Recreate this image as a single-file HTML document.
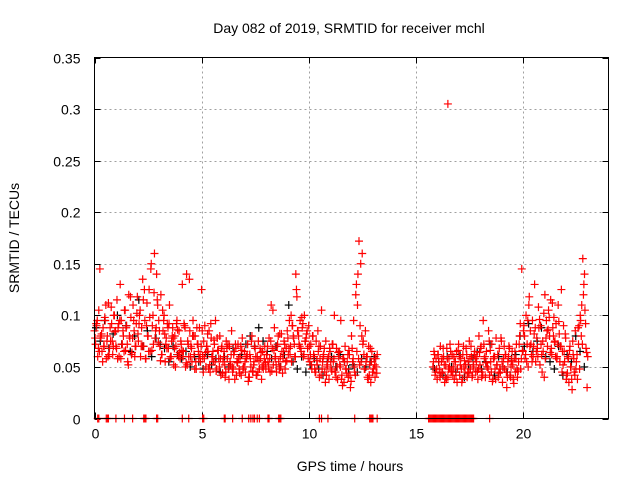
<!DOCTYPE html>
<html><head><meta charset="utf-8"><style>
html,body{margin:0;padding:0;background:#fff;}
svg text{font-family:"Liberation Sans",sans-serif;font-size:14px;fill:#000;}
</style></head><body>
<svg id="chart" width="640" height="480" xmlns="http://www.w3.org/2000/svg">
<text x="349" y="33" text-anchor="middle">Day 082 of 2019, SRMTID for receiver mchl</text>
<text transform="translate(19,238) rotate(-90)" text-anchor="middle">SRMTID / TECUs</text>
<text x="350" y="471" text-anchor="middle">GPS time / hours</text>
<g id="grid"></g>
<g id="ticks"></g>
<g id="black"></g>
<g id="red"></g>
<rect x="94.5" y="57.5" width="514" height="361" fill="none" stroke="#000" stroke-width="1"/>
</svg>
<script>
const xTicks=[0,5,10,15,20];
const yTicks=[0,0.05,0.1,0.15,0.2,0.25,0.3,0.35];
const yTickLabels=["0","0.05","0.1","0.15","0.2","0.25","0.3","0.35"];
const seg1Start=0.0, seg1Step=0.05;
const seg1RedA=[85,72,90,60,105,145,78,65,88,70,95,58,80,112,68,75,92,62,100,84,
70,115,88,60,130,95,72,80,105,66,90,55,120,78,98,64,110,85,70,92,
118,75,100,60,88,135,70,95,58,112,80,125,65,150,90,72,160,85,140,110,
95,70,120,62,85,100,55,78,92,68,110,60,75,88,52,80,70,95,62,85,
58,72,130,65,90,50,140,75,60,85,70,55,95,62,80,48,72,65,88,55,
125,60,75,90,50,70,65,85,45,78,60,55,72,95,48,66,58,80,42,70,
55,65,40,75,58,48,70,52,85,45,62,38,68,55,72,48,60,42,78,50,
65,45,58,72,40,62,50,80,45,55,68,42,60,75,48,58,38,65,52,70,
48,62,55,78,45,110,68,52,88,60,45,72,55,82,50,65,58,75,48,68,
85,62,95,70,55,90,78,60,140,118,85,72,95,65,88,60,100,75,82,68,
90,55,72,48,80,60,45,75,52,65,40,70,105,55,62,45,75,50,58,38,
65,48,72,55,100,45,68,38,60,52,95,42,58,35,70,48,55,40,62,30,
80,55,95,45,120,65,140,172,90,55,160,75,48,85,60,40,70,52,35,65,45,58,40,50,62];
const seg1BStart=0.03, seg1BStep=0.1;
const seg1RedB=[78,95,65,82,70,110,60,88,75,100,68,92,58,85,105,72,80,62,95,70,
82,105,70,125,90,65,145,100,78,115,85,62,95,72,88,58,80,68,92,60,
75,60,88,52,135,68,80,55,72,62,85,58,70,48,92,65,55,78,50,68,
60,45,72,55,50,65,42,58,70,48,55,62,40,75,52,60,45,68,50,58,
62,50,75,105,58,70,48,82,65,55,78,62,90,72,125,80,68,92,75,85,
70,52,62,45,85,58,48,68,42,60,55,72,45,50,65,38,58,48,62,42,
68,50,130,58,150,72,48,60,42,55,48,58];
const seg1CStart=0.08, seg1CStep=0.1;
const seg1RedC=[92,68,80,55,98,75,62,108,70,85,58,95,72,65,88,52,118,78,60,102,
92,70,115,58,80,98,66,122,88,74,56,105,82,68,92,60,78,50,86,64,
66,92,54,72,60,80,48,88,58,70,45,64,82,52,60,76,46,66,58,44,
52,68,38,62,48,72,54,44,66,50,60,36,58,46,70,42,56,64,48,54,
70,58,46,66,52,80,60,44,72,56,68,100,80,60,85,70,98,62,78,58,
62,80,48,56,70,42,60,35,52,68,46,58,40,64,50,32,55,44,66,36,
58,42,110,52,80,62,55,38,68,45,52,44];
const seg1BlackStart=0.07, seg1BlackStep=0.2;
const seg1Black=[88,75,95,68,82,100,72,90,65,80,115,70,85,60,78,72,68,55,70,62,58,65,50,60,55,48,62,52,58,45,60,50,68,55,62,72,80,70,88,75,65,58,70,50,62,110,55,48,60,45,52,58,48,42,55,60,50,62,55,48,52,45,58,50,55,60];
const seg2Start=15.8, seg2Step=0.05;
const seg2RedA=[50,65,42,58,38,62,48,70,55,45,60,35,52,68,40,58,72,45,62,50,
38,55,65,48,72,42,58,35,62,50,45,68,40,55,75,48,60,42,52,65,
45,60,38,80,52,70,45,95,58,40,65,50,85,42,55,72,38,60,48,78,
52,40,68,45,75,35,58,48,62,30,55,70,42,50,65,38,58,45,72,40,
55,80,48,145,65,90,58,100,72,50,118,85,62,95,70,130,55,78,60,88,
52,72,45,65,40,58,95,70,105,80,115,62,88,98,75,92,60,110,82,70,
125,65,90,55,78,42,60,35,70,50,28,62,45,85,55,38,72,48,95,110,
155,130,105,68,30];
const seg2BStart=15.83, seg2BStep=0.1;
const seg2RedB=[55,45,62,40,58,52,38,48,65,42,55,35,60,48,70,52,45,58,40,62,55,48,68,42,60,50,75,45,58,38,62,48,55,70,45,60,40,52,65,48,72,58,85,62,95,70,55,82,65,108,90,75,120,85,98,68,80,60,72,55,45,65,38,58,50,75,42,62,90,80,120,92,60];
const seg2CStart=15.88, seg2CStep=0.1;
const seg2RedC=[62,48,55,44,68,40,58,50,46,60,42,66,52,38,56,62,44,70,50,58,46,64,40,72,54,48,66,36,60,52,44,78,50,62,40,68,56,34,58,46,92,66,80,55,110,72,60,88,68,96,62,102,78,86,64,112,74,58,94,70,52,82,44,66,38,58,48,88,100,72,140,64];
const seg2BlackStart=15.87, seg2BlackStep=0.2;
const seg2Black=[48,55,42,60,50,45,62,40,52,58,65,48,55,72,42,60,50,45,58,62,80,70,92,65,75,88,60,55,48,70,42,62,55,80,65,50];
const outlierTimes=[16.5];
const outlierValues=[0.305];
const zeroTimes=[0.15,0.2,0.55,0.6,0.65,1.0,1.4,1.78,2.3,2.35,2.4,2.9,2.95,4.1,4.4,5.05,5.1,6.06,6.1,6.45,6.9,7.2,7.3,7.4,7.47,7.6,7.7,8.1,8.15,8.6,8.65,8.7,10.5,10.6,10.9,12.15,12.85,12.9,12.95,13.0,13.2,
15.6,15.65,15.7,15.75,15.8,15.85,15.9,15.95,16.0,16.05,16.1,16.15,16.2,16.25,16.3,16.35,16.4,16.45,16.5,16.55,16.6,16.65,16.7,16.75,16.8,16.85,16.9,16.95,17.0,17.05,17.1,17.15,17.2,17.25,17.3,17.35,17.4,17.45,17.5,17.55,17.6,17.65,17.7,18.45];

const X0=94.5,X1=608.5,Y0=418.5,Y1=57.5;
function xs(h){return X0+(h/24)*(X1-X0);}
function ys(v){return Y0-(v/0.35)*(Y0-Y1);}
const NS="http://www.w3.org/2000/svg";
const grid=document.getElementById('grid'),ticks=document.getElementById('ticks');
function line(g,x1,y1,x2,y2,st,dash,name){
  const l=document.createElementNS(NS,'line');
  l.setAttribute('x1',x1);l.setAttribute('y1',y1);l.setAttribute('x2',x2);l.setAttribute('y2',y2);
  l.setAttribute('stroke',st);l.setAttribute('stroke-width','1');
  if(dash)l.setAttribute('stroke-dasharray',dash);
  
  
  g.appendChild(l);
}
function txt(x,y,s,anchor,name){
  const t=document.createElementNS(NS,'text');
  t.setAttribute('x',x);t.setAttribute('y',y);t.setAttribute('text-anchor',anchor);t.textContent=s;
  
  
  ticks.appendChild(t);
}
xTicks.forEach(h=>{
  const x=Math.round(xs(h))+0.5;
  if(h>0) line(grid,x,Y0,x,Y1,'#a0a0a0','2,3','x-grid-line');
  line(ticks,x,Y0,x,Y0-6,'#000',null,'x-tick');
  line(ticks,x,Y1,x,Y1+6,'#000',null,'x-tick');
  txt(x,Y0+20,String(h),'middle','x-tick-label');
});
yTicks.forEach((v,i)=>{
  const y=Math.round(ys(v))+0.5;
  if(v>0&&v<0.35) line(grid,X0,y,X1,y,'#a0a0a0','2,3','y-grid-line');
  line(ticks,X0,y,X0+6,y,'#000',null,'y-tick');
  line(ticks,X1,y,X1-6,y,'#000',null,'y-tick');
  txt(X0-14,y+5,yTickLabels[i],'end','y-tick-label');
});
function plus(g,h,v,color,name){
  const x=xs(h),y=ys(v);
  const p=document.createElementNS(NS,'path');
  p.setAttribute('d',`M${x-4},${y}H${x+4}M${x},${y-4}V${y+4}`);
  p.setAttribute('stroke',color);p.setAttribute('stroke-width','1.2');p.setAttribute('fill','none');
  
  
  g.appendChild(p);
}
const gb=document.getElementById('black'),gr=document.getElementById('red');
seg1Black.forEach((v,i)=>plus(gb,seg1BlackStart+i*seg1BlackStep,v/1000,'#000','black-point'));
seg2Black.forEach((v,i)=>plus(gb,seg2BlackStart+i*seg2BlackStep,v/1000,'#000','black-point'));
seg1RedA.forEach((v,i)=>plus(gr,seg1Start+i*seg1Step,v/1000,'#f00','red-point'));
seg1RedB.forEach((v,i)=>plus(gr,seg1BStart+i*seg1BStep,v/1000,'#f00','red-point'));
seg1RedC.forEach((v,i)=>plus(gr,seg1CStart+i*seg1CStep,v/1000,'#f00','red-point'));
seg2RedA.forEach((v,i)=>plus(gr,seg2Start+i*seg2Step,v/1000,'#f00','red-point'));
seg2RedB.forEach((v,i)=>plus(gr,seg2BStart+i*seg2BStep,v/1000,'#f00','red-point'));
seg2RedC.forEach((v,i)=>plus(gr,seg2CStart+i*seg2CStep,v/1000,'#f00','red-point'));
outlierTimes.forEach((h,i)=>plus(gr,h,outlierValues[i],'#f00','red-outlier-point'));
zeroTimes.forEach(h=>plus(gr,h,0,'#f00','zero-point'));
</script>
</body></html>
